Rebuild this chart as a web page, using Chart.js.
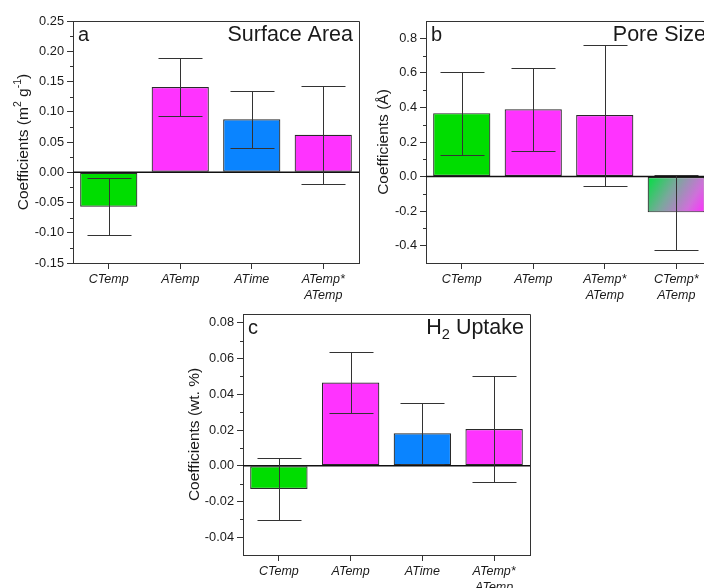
<!DOCTYPE html>
<html><head><meta charset="utf-8">
<script src="https://cdn.jsdelivr.net/npm/chart.js@4.4.1/dist/chart.umd.min.js"></script>
<style>
html,body{margin:0;padding:0;background:#fff;overflow:hidden;width:704px;height:588px;position:relative}
canvas{position:absolute}
#ca{left:0;top:0}
#cb{left:353px;top:0}
#cc{left:170px;top:300px}
</style></head><body>
<canvas id="ca" width="370" height="310" style="width:370px;height:310px"></canvas>
<canvas id="cb" width="370" height="310" style="width:370px;height:310px"></canvas>
<canvas id="cc" width="370" height="288" style="width:370px;height:288px"></canvas>
<script>
// ---------- data ----------
const catsA = [['CTemp'], ['ATemp'], ['ATime'], ['ATemp*', 'ATemp']];
const coefA = [-0.057, 0.141, 0.0875, 0.062];
const errA  = [0.047, 0.048, 0.047, 0.081];
const yTicksA = [-0.15, -0.10, -0.05, 0, 0.05, 0.10, 0.15, 0.20, 0.25];

const catsB = [['CTemp'], ['ATemp'], ['ATemp*', 'ATemp'], ['CTemp*', 'ATemp']];
const coefB = [0.367, 0.389, 0.356, -0.207];
const errB  = [0.240, 0.239, 0.408, 0.215];
const yTicksB = [-0.4, -0.2, 0, 0.2, 0.4, 0.6, 0.8];

const catsC = [['CTemp'], ['ATemp'], ['ATime'], ['ATemp*', 'ATemp']];
const coefC = [-0.013, 0.0466, 0.0182, 0.0206];
const errC  = [0.0173, 0.0172, 0.0172, 0.0296];
const yTicksC = [-0.04, -0.02, 0, 0.02, 0.04, 0.06, 0.08];

// text (pieces: [text, 0 normal | 1 superscript | -1 subscript])
const yTitleA = [['Coefficients (m', 0], ['2', 1], [' g', 0], ['-1', 1], [')', 0]];
const yTitleB = [['Coefficients (Å)', 0]];
const yTitleC = [['Coefficients (wt. %)', 0]];
const headA = [['Surface Area', 0]];
const headB = [['Pore Size', 0]];
const headC = [['H', 0], ['2', -1], [' Uptake', 0]];

// ---------- styles ----------
const FONT = '"Liberation Sans", Arial, Helvetica, sans-serif';
const GREEN = '#00dd00', MAGENTA = '#ff33ff', BLUE = '#0a84ff';
const colorsA = [GREEN, MAGENTA, BLUE, MAGENTA];
const colorsB = [GREEN, MAGENTA, MAGENTA, 'gradient'];
const colorsC = [GREEN, MAGENTA, BLUE, MAGENTA];
const AXIS = '#333333', TEXT = '#1a1a1a';

function drawRich(ctx, pieces, x, y, size, align) {
  const fontFor = m => (m === 0 ? size : size * 0.68) + 'px ' + FONT;
  const widths = pieces.map(p => { ctx.font = fontFor(p[1]); return ctx.measureText(p[0]).width; });
  const total = widths.reduce((a, b) => a + b, 0);
  let cx = align === 'center' ? x - total / 2 : align === 'right' ? x - total : x;
  ctx.textAlign = 'left';
  ctx.textBaseline = 'alphabetic';
  pieces.forEach((p, i) => {
    ctx.font = fontFor(p[1]);
    const dy = p[1] === 1 ? -size * 0.42 : p[1] === -1 ? size * 0.25 : 0;
    ctx.fillText(p[0], cx, y + dy);
    cx += widths[i];
  });
}

function makeChart(id, o) {
  const canvas = document.getElementById(id);
  const plugin = {
    id: 'panel' + id,
    afterDatasetsDraw(chart) {
      const ctx = chart.ctx, a = chart.chartArea, ys = chart.scales.y;
      const meta = chart.getDatasetMeta(0);
      ctx.save();
      ctx.beginPath(); ctx.rect(a.left, a.top - 1, a.right - a.left, a.bottom - a.top + 2); ctx.clip();
      // zero line
      const y0 = ys.getPixelForValue(0);
      ctx.strokeStyle = '#111'; ctx.lineWidth = 1.6;
      ctx.beginPath(); ctx.moveTo(a.left, y0); ctx.lineTo(a.right, y0); ctx.stroke();
      // error bars
      ctx.strokeStyle = '#333'; ctx.lineWidth = 1;
      o.vals.forEach((v, i) => {
        const x = Math.round(meta.data[i].x) + 0.5;
        const yh = Math.round(ys.getPixelForValue(v + o.errs[i])) + 0.5;
        const yl = Math.round(ys.getPixelForValue(v - o.errs[i])) + 0.5;
        ctx.beginPath();
        ctx.moveTo(x, yh); ctx.lineTo(x, yl);
        ctx.moveTo(x - 22, yh); ctx.lineTo(x + 22, yh);
        ctx.moveTo(x - 22, yl); ctx.lineTo(x + 22, yl);
        ctx.stroke();
      });
      ctx.restore();
    },
    afterDraw(chart) {
      const ctx = chart.ctx, a = chart.chartArea, ys = chart.scales.y;
      ctx.save();
      ctx.strokeStyle = AXIS; ctx.lineWidth = 1;
      // top and right frame
      ctx.beginPath();
      ctx.moveTo(a.left, Math.round(a.top) + 0.5); ctx.lineTo(a.right + 0.5, Math.round(a.top) + 0.5);
      ctx.lineTo(Math.round(a.right) + 0.5, a.bottom);
      ctx.stroke();
      // minor ticks
      const k0 = Math.ceil(o.min / o.minor - 1e-6), k1 = Math.floor(o.max / o.minor + 1e-6);
      ctx.beginPath();
      for (let k = k0; k <= k1; k++) {
        const v = k * o.minor;
        if (Math.abs(v - o.min) < 1e-9 || Math.abs(v - o.max) < 1e-9) continue;
        if (o.ticks.some(t => Math.abs(t - v) < 1e-9)) continue;
        const yy = Math.round(ys.getPixelForValue(v)) + 0.5;
        ctx.moveTo(a.left - 3, yy); ctx.lineTo(a.left, yy);
      }
      ctx.stroke();
      // texts
      ctx.fillStyle = TEXT;
      ctx.font = '20px ' + FONT; ctx.textAlign = 'left'; ctx.textBaseline = 'alphabetic';
      ctx.fillText(o.letter, a.left + 5, a.top + 20);
      drawRich(ctx, o.head, a.right - 6, a.top + 20, 21.5, 'right');
      ctx.translate(o.titleX, (a.top + a.bottom) / 2);
      ctx.rotate(-Math.PI / 2);
      drawRich(ctx, o.yTitle, 0, 0, 15.5, 'center');
      ctx.restore();
    }
  };
  const bg = (c) => {
    const chart = c.chart, i = c.dataIndex;
    const col = o.colors[i];
    if (col !== 'gradient') return col;
    const xs = chart.scales.x, ys = chart.scales.y;
    if (!xs || !ys || !chart.chartArea) return MAGENTA;
    const xc = xs.getPixelForValue(i), w = 28.6;
    const yt = ys.getPixelForValue(Math.max(0, o.vals[i])), yb = ys.getPixelForValue(Math.min(0, o.vals[i]));
    const g = chart.ctx.createLinearGradient(xc - w, yt, xc + w, yb);
    g.addColorStop(0, '#00e040');
    g.addColorStop(0.4, '#7aa89c');
    g.addColorStop(0.75, '#cf70da');
    g.addColorStop(1, '#ff2eff');
    return g;
  };
  return new Chart(canvas, {
    type: 'bar',
    data: {
      labels: o.cats,
      datasets: [{
        data: o.vals,
        backgroundColor: bg,
        borderColor: '#2a2a2a',
        borderWidth: 1.2,
        borderSkipped: false,
        barPercentage: 0.8,
        categoryPercentage: 1.0
      }]
    },
    options: {
      responsive: false,
      animation: false,
      devicePixelRatio: 1,
      layout: { padding: { top: o.padTop, right: o.padRight, left: 0, bottom: 0 } },
      plugins: { legend: { display: false }, tooltip: { enabled: false }, title: { display: false } },
      scales: {
        x: {
          type: 'category',
          offset: true,
          grid: { drawOnChartArea: false, offset: false, tickLength: 6, tickColor: AXIS, tickWidth: 1 },
          border: { display: true, color: AXIS, width: 1 },
          ticks: { autoSkip: false, maxRotation: 0, minRotation: 0, padding: 2, color: TEXT,
                   font: { family: FONT, size: 12.5, style: 'italic', lineHeight: 1.3 } },
          afterFit(s) { s.height = o.xHeight; }
        },
        y: {
          type: 'linear',
          min: o.min, max: o.max,
          grid: { drawOnChartArea: false, tickLength: 6, tickColor: AXIS, tickWidth: 1 },
          border: { display: true, color: AXIS, width: 1 },
          ticks: { padding: 3, color: TEXT, font: { family: FONT, size: 12.8 },
                   callback: (v) => Number(v).toFixed(o.dec) },
          afterBuildTicks(s) { s.ticks = o.ticks.map(v => ({ value: v })); },
          afterFit(s) { s.width = 73; }
        }
      }
    },
    plugins: [plugin]
  });
}

makeChart('ca', { cats: catsA, vals: coefA, errs: errA, ticks: yTicksA, dec: 2, min: -0.15, max: 0.25, minor: 0.025,
  colors: colorsA, padTop: 21, padRight: 11, xHeight: 47, titleX: 28, letter: 'a', head: headA, yTitle: yTitleA });
makeChart('cb', { cats: catsB, vals: coefB, errs: errB, ticks: yTicksB, dec: 1, min: -0.5, max: 0.9, minor: 0.1,
  colors: colorsB, padTop: 21, padRight: 11, xHeight: 47, titleX: 34.5, letter: 'b', head: headB, yTitle: yTitleB });
makeChart('cc', { cats: catsC, vals: coefC, errs: errC, ticks: yTicksC, dec: 2, min: -0.05, max: 0.085, minor: 0.01,
  colors: colorsC, padTop: 14, padRight: 10, xHeight: 33, titleX: 29, letter: 'c', head: headC, yTitle: yTitleC });
</script>
</body></html>
